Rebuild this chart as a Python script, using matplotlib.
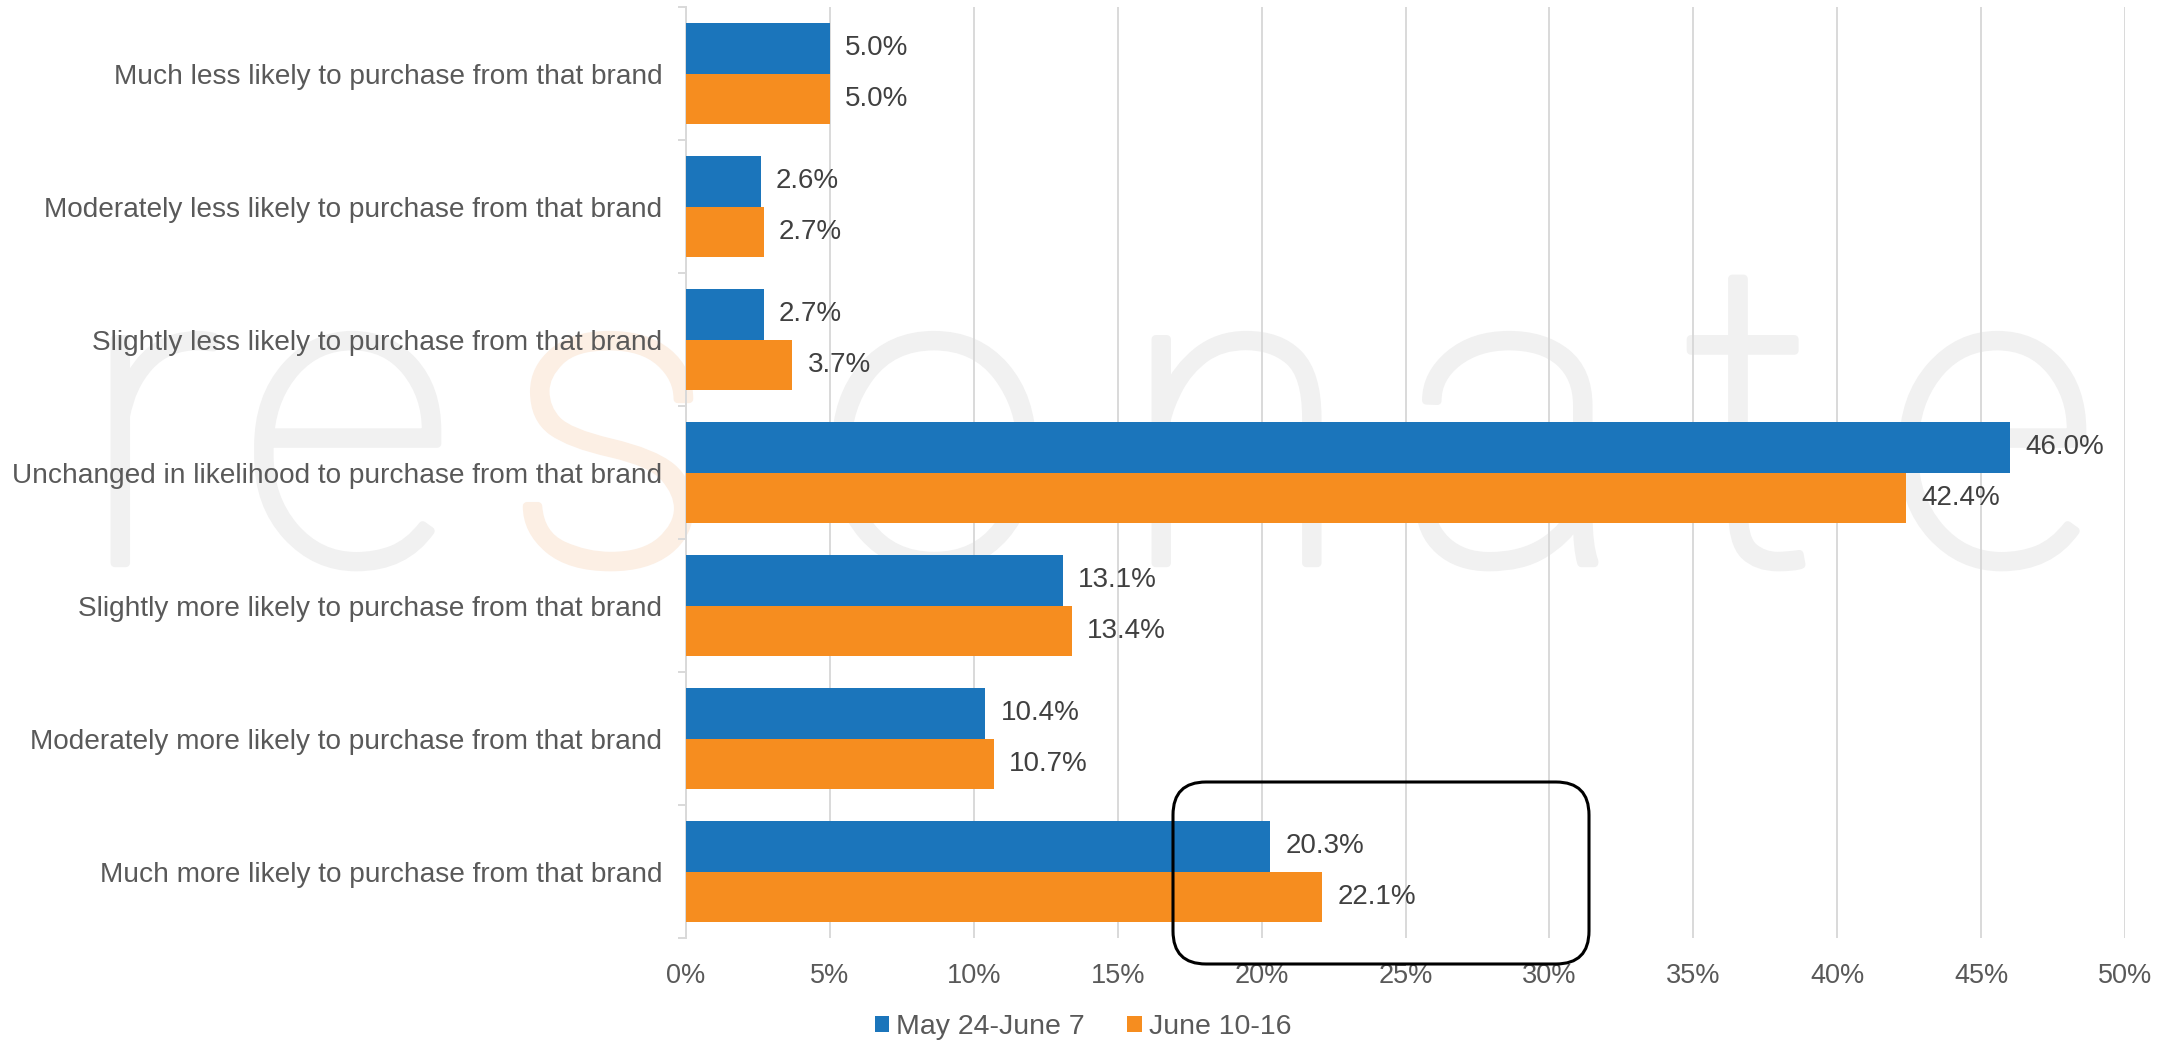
import matplotlib
matplotlib.use("Agg")
import matplotlib.pyplot as plt
import matplotlib.patheffects as pe
from matplotlib.patches import FancyBboxPatch
from matplotlib.ticker import FixedLocator
import numpy as np

plt.rcParams['font.family'] = ['Liberation Sans', 'DejaVu Sans']

# data, top to bottom as shown
categories = [
    "Much less likely to purchase from that brand",
    "Moderately less likely to purchase from that brand",
    "Slightly less likely to purchase from that brand",
    "Unchanged in likelihood to purchase from that brand",
    "Slightly more likely to purchase from that brand",
    "Moderately more likely to purchase from that brand",
    "Much more likely to purchase from that brand",
]
may_june7 = [5.0, 2.6, 2.7, 46.0, 13.1, 10.4, 20.3]
june10_16 = [5.0, 2.7, 3.7, 42.4, 13.4, 10.7, 22.1]
series_names = ["May 24-June 7", "June 10-16"]
xticks = [0, 5, 10, 15, 20, 25, 30, 35, 40, 45, 50]

blue = "#1b75bb"
orange = "#f68d1f"
grey_txt = "#595959"
dark_txt = "#404040"
grid_c = "#d9d9d9"

fig = plt.figure(figsize=(21.82, 10.42), dpi=100)
ax = fig.add_axes([686/2182, 1 - 938/1042, (2125 - 686)/2182, (938 - 7)/1042])
ax.set_facecolor("none")

# watermark "resonate" behind everything
wm_letters = list("resonate")
wm_x = [150, 347, 610, 934, 1236, 1513, 1750, 1992]
wm_cols = ["#f1f1f1", "#f1f1f1", "#fcefe4", "#f1f1f1", "#f1f1f1", "#f1f1f1", "#f1f1f1", "#f1f1f1"]
for ch, xp, c in zip(wm_letters, wm_x, wm_cols):
    fig.text(xp/2182, 1 - 563/1042, ch, fontsize=305, family=['Roboto', 'DejaVu Sans'],
             fontweight='light', color=c, ha='center', va='baseline', zorder=-10,
             path_effects=[pe.withStroke(linewidth=6, foreground=c)])

y = np.arange(len(categories))
h = 0.38
b1 = ax.barh(y - h/2, may_june7, height=h, color=blue, zorder=3, label=series_names[0])
b2 = ax.barh(y + h/2, june10_16, height=h, color=orange, zorder=3, label=series_names[1])

for bars, vals in ((b1, may_june7), (b2, june10_16)):
    for rect, v in zip(bars, vals):
        ax.annotate(f"{v:.1f}%", (v, rect.get_y() + rect.get_height()/2),
                    xytext=(11, 0), textcoords='offset points', va='center', ha='left',
                    fontsize=20, color=dark_txt, zorder=4)

ax.set_xlim(0, 50)
ax.set_ylim(len(categories) - 0.5, -0.5)
ax.set_xticks(xticks)
ax.set_xticklabels([f"{t}%" for t in xticks], fontsize=19.5, color=grey_txt)
ax.set_yticks(y)
ax.set_yticklabels(categories, fontsize=20.2, color=grey_txt)
ax.yaxis.set_minor_locator(FixedLocator(np.arange(-0.5, len(categories), 1.0)))
ax.tick_params(axis='y', which='major', length=0, pad=17)
ax.tick_params(axis='y', which='minor', length=6, width=1.4, color=grid_c)
ax.tick_params(axis='x', length=0, pad=18)

ax.grid(axis='x', color=grid_c, lw=1.4, zorder=0)
ax.set_axisbelow(True)
for s in ("top", "right", "bottom"):
    ax.spines[s].set_visible(False)
ax.spines["left"].set_color(grid_c)
ax.spines["left"].set_linewidth(1.4)

leg = fig.legend(handles=[b1, b2], labels=series_names, loc='center', ncol=2,
                 bbox_to_anchor=(1083/2182, 1 - 1027/1042), frameon=False, fontsize=20.5,
                 handlelength=0.5, handleheight=0.5, handletextpad=0.25, columnspacing=1.5)
for t in leg.get_texts():
    t.set_color(grey_txt)

# rounded highlight box around the last group
box = FancyBboxPatch((11.73, 0.78), 4.16, 1.82, boxstyle="round,pad=0,rounding_size=0.33",
                     transform=fig.dpi_scale_trans, fill=False, ec="black", lw=2.2, zorder=6)
fig.patches.append(box)

fig.savefig("out.png", dpi=100)
